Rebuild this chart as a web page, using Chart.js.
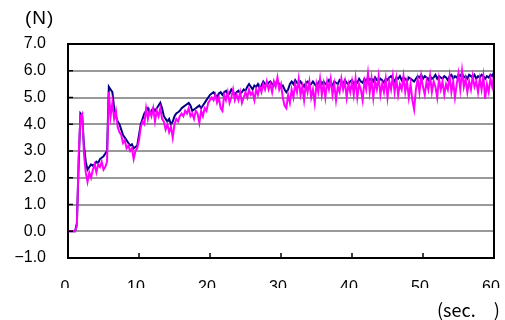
<!DOCTYPE html>
<html>
<head>
<meta charset="utf-8">
<script src="https://cdn.jsdelivr.net/npm/chart.js@4/dist/chart.umd.min.js"></script>
<style>
  body { margin: 0; background: #fff; }
  canvas { display: block; }
</style>
</head>
<body>
<canvas id="myChart" width="505" height="320"></canvas>
<script>
// sample interval of the recording (sec.)
var step = 0.25;

// force, series 1 (navy)
var forceA = [
  0, 0, 0, 0, 0.0, 0.3, 2.5, 4.4, 4.3, 3.2, 2.6, 2.3, 2.4, 2.5, 2.45, 2.5,
  2.6, 2.55, 2.7, 2.75, 2.8, 2.9, 3.0, 5.4, 5.3, 5.2, 4.6, 4.3, 4.1, 4.0, 3.8, 3.6,
  3.5, 3.4, 3.3, 3.2, 3.25, 3.1, 3.15, 3.2, 3.6, 4.0, 4.2, 4.4, 4.5, 4.6, 4.4, 4.5,
  4.6, 4.5, 4.6, 4.7, 4.8, 4.6, 4.3, 4.2, 4.1, 4.2, 4.0, 4.1, 4.3, 4.4, 4.45, 4.5,
  4.6, 4.65, 4.7, 4.75, 4.8, 4.7, 4.5, 4.55, 4.6, 4.65, 4.7, 4.6, 4.7, 4.8, 4.9, 5.0,
  5.1, 5.15, 5.2, 5.1, 5.0, 5.15, 5.2, 5.1, 5.2, 5.25, 5.1, 5.15, 5.3, 5.2, 5.1, 5.2,
  5.25, 5.15, 5.2, 5.3, 5.25, 5.4, 5.5, 5.4, 5.3, 5.45, 5.4, 5.5, 5.35, 5.45, 5.6, 5.5,
  5.45, 5.55, 5.6, 5.5, 5.45, 5.55, 5.6, 5.5, 5.4, 5.45, 5.3, 5.2, 5.3, 5.5, 5.6, 5.5,
  5.65, 5.55, 5.5, 5.6, 5.5, 5.4, 5.55, 5.6, 5.45, 5.5, 5.6, 5.5, 5.4, 5.55, 5.65, 5.5,
  5.6, 5.5, 5.55, 5.65, 5.5, 5.45, 5.6, 5.55, 5.5, 5.65, 5.6, 5.5, 5.65, 5.55, 5.5, 5.6,
  5.65, 5.5, 5.6, 5.55, 5.7, 5.6, 5.55, 5.7, 5.6, 5.75, 5.65, 5.7, 5.6, 5.75, 5.65, 5.6,
  5.7, 5.65, 5.55, 5.7, 5.65, 5.75, 5.8, 5.7, 5.6, 5.75, 5.7, 5.8, 5.65, 5.75, 5.7, 5.6,
  5.75, 5.7, 5.65, 5.6, 5.7, 5.8, 5.75, 5.85, 5.7, 5.8, 5.75, 5.65, 5.8, 5.7, 5.75, 5.85,
  5.7, 5.8, 5.75, 5.7, 5.8, 5.75, 5.65, 5.8, 5.85, 5.7, 5.8, 5.75, 5.85, 5.8, 5.9, 5.75,
  5.8, 5.7, 5.85, 5.8, 5.75, 5.85, 5.7, 5.8, 5.75, 5.85, 5.8, 5.7, 5.8, 5.75, 5.85, 5.8,
  5.95
];

// force, series 2 (magenta)
var forceB = [
  0, 0, 0, 0, 0.0, 0.2, 2.8, 4.3, 4.4, 2.9, 2.2, 1.85, 2.2, 2.0, 2.3, 2.5,
  2.2, 2.5, 2.4, 2.6, 2.3, 2.4, 2.6, 5.2, 4.3, 4.8, 4.2, 4.5, 3.9, 3.7, 3.6, 3.3,
  3.4, 3.1, 3.2, 3.0, 3.1, 2.7, 3.0, 3.1, 3.4, 3.9, 4.1, 4.0, 4.6, 4.2, 4.5, 4.3,
  4.6, 4.1, 4.5, 4.3, 4.6, 4.2, 4.1, 3.8, 4.0, 3.7, 3.9, 3.5, 4.0, 4.2, 4.1, 4.3,
  4.4, 4.3, 4.5, 4.4, 4.6, 4.3, 4.4, 4.2, 4.5, 4.4, 4.05, 4.5, 4.3, 4.6, 4.5, 4.8,
  4.9, 5.0, 4.9, 5.1, 4.8, 5.0, 4.6, 4.5, 5.1, 4.9, 5.2, 4.8, 5.0, 5.3, 4.9, 5.1,
  4.9, 5.2, 4.8, 5.0, 5.2, 5.0, 5.3, 5.1, 5.2, 4.9, 5.3, 5.1, 5.4, 5.2, 5.5, 5.3,
  5.6, 5.3, 5.5, 5.2, 5.6, 5.4, 5.75, 5.3, 5.5, 5.0, 4.7, 4.6, 5.1, 4.8, 5.3, 5.0,
  5.5, 5.2, 5.7, 5.1, 5.4, 4.9, 5.5, 5.2, 5.6, 5.0, 5.3, 4.8, 5.5, 5.2, 5.7, 5.1,
  5.5, 5.0, 5.6, 5.3, 5.7, 5.1, 5.5, 4.9, 5.4, 5.2, 5.7, 5.3, 5.6, 5.0, 5.5, 5.2,
  5.6, 5.1, 5.7, 5.0, 5.5, 5.3, 4.9, 5.6, 5.3, 5.9, 5.2, 5.7, 5.0, 5.6, 5.3, 5.8,
  5.1, 5.5, 5.2, 5.7, 5.0, 5.6, 5.3, 5.8, 5.2, 5.7, 5.1, 5.5, 5.3, 5.8, 5.2, 5.6,
  5.0, 5.5, 4.9, 4.55, 5.3, 5.7, 5.2, 5.8, 5.4, 5.1, 5.6, 5.3, 5.8, 5.2, 5.6, 5.4,
  5.0, 5.7, 5.3, 5.6, 5.1, 5.5, 5.3, 5.8, 5.2, 5.6, 5.0, 5.5, 5.9, 5.3, 6.0, 5.4,
  5.7, 5.2, 5.6, 5.3, 5.8, 5.4, 5.6, 5.2, 5.7, 5.3, 5.8, 4.95, 5.5, 5.2, 5.7, 5.4,
  5.85
];

var yTicks = [-1, 0, 1, 2, 3, 4, 5, 6, 7];
var xTicks = [0, 10, 20, 30, 40, 50, 60];

function toPoints(values) {
    return values.map(function (v, i) {
        return { x: i * step, y: v };
    });
}

// frame on top/right, inward tick marks, unit labels
var extras = {
    id: 'extras',
    afterDraw: function (chart) {
        var ctx = chart.ctx;
        var a = chart.chartArea;
        var xs = chart.scales.x;
        var ys = chart.scales.y;
        ctx.save();
        ctx.strokeStyle = '#000';
        ctx.lineWidth = 2;
        ctx.beginPath();
        ctx.moveTo(a.left, a.top);
        ctx.lineTo(a.right, a.top);
        ctx.lineTo(a.right, a.bottom);
        ctx.stroke();

        ctx.lineWidth = 1.5;
        ctx.beginPath();
        yTicks.forEach(function (t) {
            var py = ys.getPixelForValue(t);
            ctx.moveTo(a.left, py);
            ctx.lineTo(a.left + 5, py);
        });
        xTicks.forEach(function (t) {
            var px = xs.getPixelForValue(t);
            ctx.moveTo(px, a.bottom);
            ctx.lineTo(px, a.bottom - 5);
        });
        ctx.stroke();

        ctx.fillStyle = '#000';
        ctx.textBaseline = 'middle';
        ctx.font = '19px "Liberation Sans"';
        ctx.textAlign = 'left';
        ctx.letterSpacing = '1px';
        ctx.fillText('(N)', 25, 19);
        ctx.font = '18px "Noto Sans CJK JP"';
        ctx.letterSpacing = '0px';
        ctx.fillText('(sec.\u2003)', 437, 310);
        ctx.restore();
    }
};

var ctx = document.getElementById('myChart').getContext('2d');
var chart = new Chart(ctx, {
    type: 'line',
    data: {
        datasets: [{
            label: 'A',
            data: toPoints(forceA),
            borderColor: '#000080',
            borderWidth: 2,
            pointRadius: 0,
            order: 2
        }, {
            label: 'B',
            data: toPoints(forceB),
            borderColor: '#ff00ff',
            borderWidth: 2,
            pointRadius: 0,
            order: 1
        }]
    },
    options: {
        responsive: false,
        animation: false,
        layout: { padding: { left: 0, right: 11, top: 44, bottom: 32 } },
        plugins: { legend: { display: false }, tooltip: { enabled: false } },
        scales: {
            x: {
                type: 'linear',
                min: 0,
                max: 60,
                afterFit: function (s) {
                    s.height = 30;
                    s.paddingLeft = 0;
                    s.paddingRight = 0;
                },
                afterBuildTicks: function (s) {
                    s.ticks = xTicks.map(function (v) { return { value: v }; });
                },
                grid: { display: false, drawTicks: false },
                border: { display: true, color: '#000', width: 2 },
                ticks: {
                    color: '#000',
                    font: { family: 'Liberation Sans', size: 16 },
                    padding: 20,
                    labelOffset: -3,
                    maxRotation: 0
                }
            },
            y: {
                min: -1,
                max: 7,
                afterFit: function (s) {
                    s.width = 68;
                    s.paddingTop = 0;
                    s.paddingBottom = 0;
                },
                afterBuildTicks: function (s) {
                    s.ticks = yTicks.map(function (v) { return { value: v }; });
                },
                grid: { color: '#999', lineWidth: 2, drawTicks: false },
                border: { display: true, color: '#000', width: 2 },
                ticks: {
                    color: '#000',
                    font: { family: 'Liberation Sans', size: 16 },
                    padding: 22,
                    callback: function (v) {
                        return v < 0 ? '\u2212' + Math.abs(v).toFixed(1) : v.toFixed(1);
                    }
                }
            }
        }
    },
    plugins: [extras]
});
</script>
</body>
</html>
